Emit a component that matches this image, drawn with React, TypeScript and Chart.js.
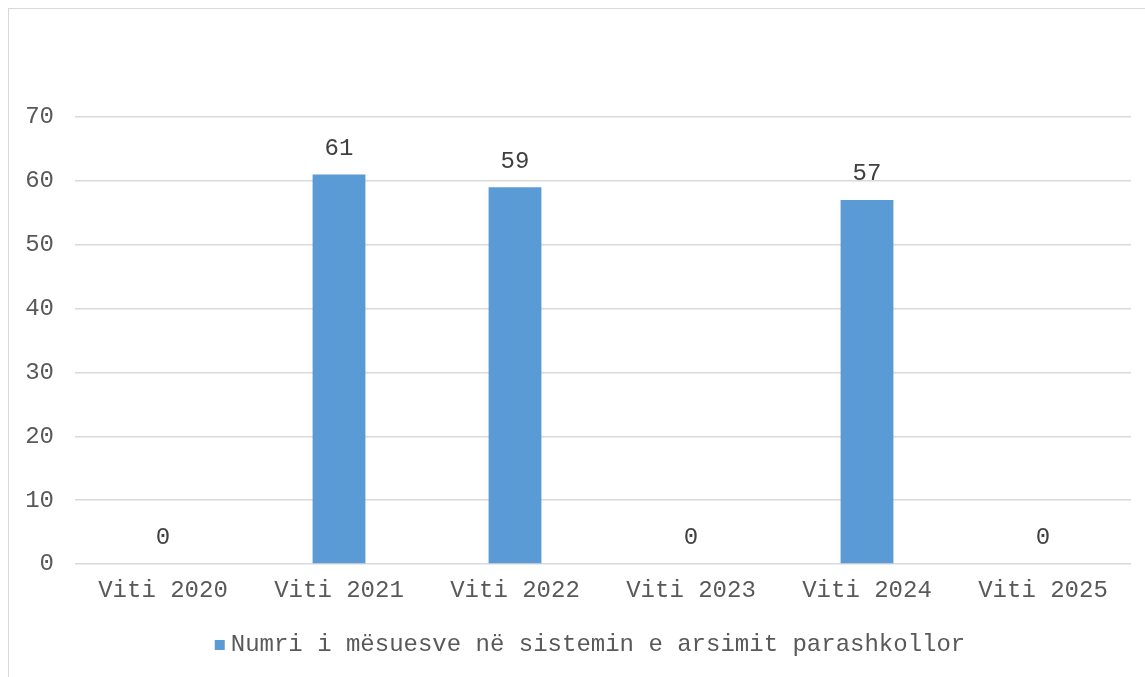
import React, { useEffect, useRef } from "react";
import { Chart, registerables } from "chart.js";

Chart.register(...registerables);

const categories = ["Viti 2020", "Viti 2021", "Viti 2022", "Viti 2023", "Viti 2024", "Viti 2025"];
const seriesName = "Numri i mësuesve në sistemin e arsimit parashkollor";
const seriesValues = [0, 61, 59, 0, 57, 0];
const yTicks = [0, 10, 20, 30, 40, 50, 60, 70];

const FONT = "'Liberation Mono', 'Courier New', monospace";
const BAR_COLOR = "#5B9BD5";

const dataLabels = {
  id: "dataLabels",
  afterDatasetsDraw(chart: any) {
    const ctx = chart.ctx;
    const meta = chart.getDatasetMeta(0);
    ctx.save();
    ctx.font = `24px ${FONT}`;
    ctx.fillStyle = "#404040";
    ctx.textAlign = "center";
    ctx.textBaseline = "middle";
    meta.data.forEach((el: any, i: number) => {
      const v = chart.data.datasets[0].data[i];
      ctx.fillText(String(v), el.x, el.y - 26);
    });
    ctx.restore();
  },
};

const bottomLegend = {
  id: "bottomLegend",
  afterDraw(chart: any) {
    const ctx = chart.ctx;
    const ds = chart.data.datasets[0];
    ctx.save();
    ctx.font = `24px ${FONT}`;
    const tw = ctx.measureText(ds.label).width;
    const box = 10;
    const gap = 6;
    const total = box + gap + tw;
    const cx = 581;
    const cy = 636;
    const x0 = cx - total / 2;
    ctx.fillStyle = ds.backgroundColor;
    ctx.fillRect(x0, cy - box / 2, box, box);
    ctx.fillStyle = "#595959";
    ctx.textAlign = "left";
    ctx.textBaseline = "middle";
    ctx.fillText(ds.label, x0 + box + gap, cy);
    ctx.restore();
  },
};

export default function App() {
  const ref = useRef<HTMLCanvasElement | null>(null);
  useEffect(() => {
    if (!ref.current) return;
    const chart = new Chart(ref.current, {
      type: "bar",
      data: {
        labels: categories,
        datasets: [
          {
            label: seriesName,
            data: seriesValues,
            backgroundColor: BAR_COLOR,
            borderWidth: 0,
            barPercentage: 0.6,
            categoryPercentage: 0.5,
          },
        ],
      },
      options: {
        animation: false,
        responsive: false,
        maintainAspectRatio: false,
        layout: { padding: { left: 16, right: 14, top: 108, bottom: 77 } },
        plugins: {
          legend: { display: false },
          tooltip: { enabled: false },
        },
        scales: {
          x: {
            grid: { display: false },
            border: { display: false },
            ticks: {
              color: "#595959",
              font: { family: FONT, size: 24 },
              padding: 4,
            },
            afterFit(scale: any) {
              scale.height = 36;
            },
          },
          y: {
            min: 0,
            max: 70,
            afterBuildTicks(scale: any) {
              scale.ticks = yTicks.map((v) => ({ value: v }));
            },
            grid: { color: "#d9d9d9", lineWidth: 1.5, drawTicks: false },
            border: { display: false },
            ticks: {
              color: "#595959",
              font: { family: FONT, size: 24 },
              padding: 21,
            },
            afterFit(scale: any) {
              scale.width = 50;
            },
          },
        },
      },
      plugins: [dataLabels, bottomLegend],
    });
    return () => chart.destroy();
  }, []);
  return (
    <div
      style={{
        position: "fixed",
        left: 8,
        top: 8,
        width: 1145,
        height: 677,
        borderLeft: "1px solid #d9d9d9",
        borderTop: "1px solid #d9d9d9",
        boxSizing: "border-box",
        background: "#fff",
      }}
    >
      <canvas ref={ref} width={1136} height={668} style={{ display: "block" }} />
    </div>
  );
}
